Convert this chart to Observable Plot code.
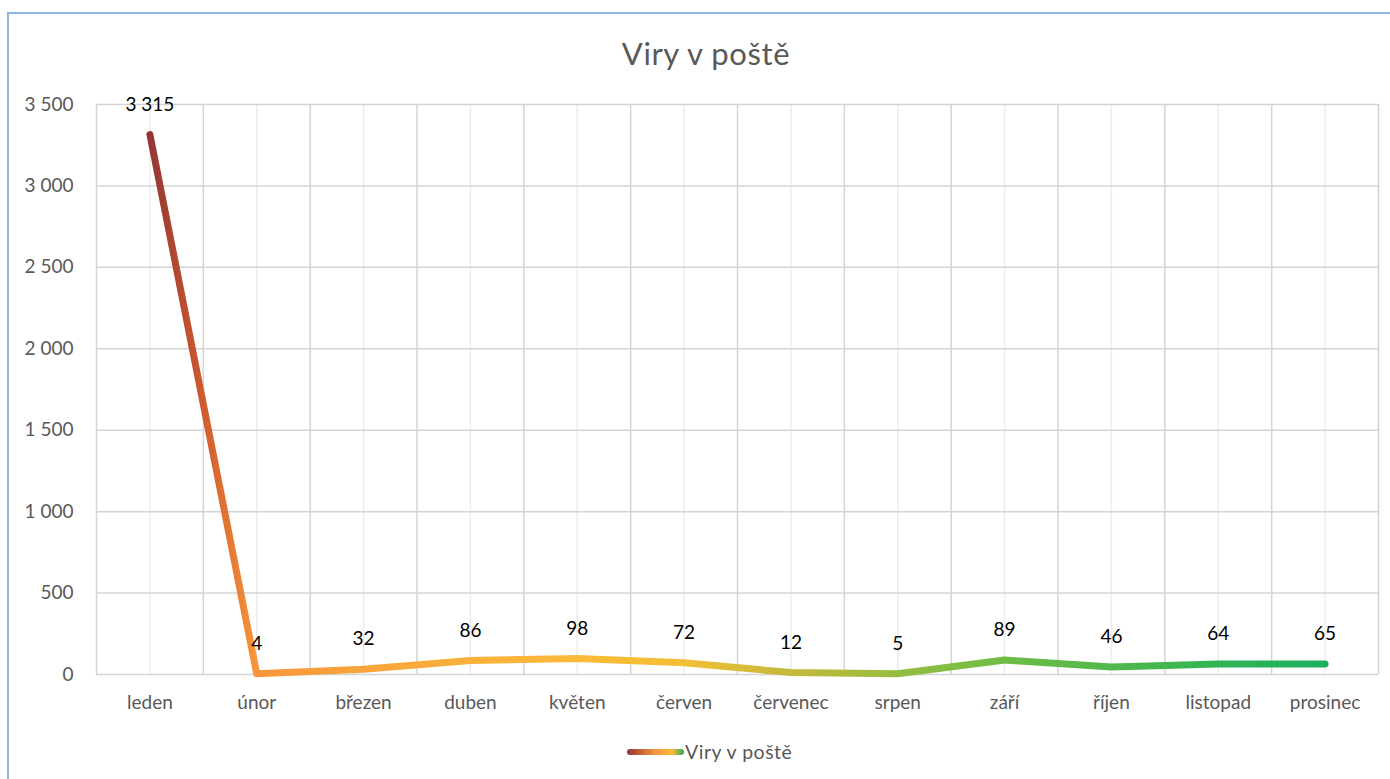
<!DOCTYPE html>
<html>
<head>
<meta charset="utf-8">
<script src="https://cdn.jsdelivr.net/npm/d3@7"></script>
<script src="https://cdn.jsdelivr.net/npm/@observablehq/plot@0.6"></script>
<style>
  html, body { margin: 0; padding: 0; background: #fff; }
  #wrap { position: relative; width: 1390px; height: 779px; overflow: hidden; font-family: Lato, "Noto Sans", sans-serif; }
  #frame { position: absolute; left: 7px; top: 12px; width: 1400px; height: 800px; border-left: 2px solid #8eb4e3; border-top: 2px solid #8eb4e3; }
  #title { position: absolute; left: 0; width: 1412px; top: 34px; text-align: center; font-size: 31px; letter-spacing: 0.6px; color: #595959; }
  #chart { position: absolute; left: 0; top: 0; }
  #legend { position: absolute; left: 627px; top: 740px; display: flex; align-items: center; font-size: 19.5px; letter-spacing: 0.5px; color: #595959; }
  #legend .sw { width: 57px; height: 6px; border-radius: 3px; background: linear-gradient(90deg, #943634, #f7963a 50%, #fbba39 80%, #1baf5c); margin-right: 1px; }
</style>
</head>
<body>
<div id="wrap">
  <div id="frame"></div>
  <div id="chart"></div>
  <div id="title">Viry v poště</div>
  <div id="legend"><div class="sw"></div><span id="legtext"></span></div>
</div>
<script>
const title = "Viry v poště";
const months = ["leden", "únor", "březen", "duben", "květen", "červen", "červenec", "srpen", "září", "říjen", "listopad", "prosinec"];
const values = [3315, 4, 32, 86, 98, 72, 12, 5, 89, 46, 64, 65];
const yTicks = [0, 500, 1000, 1500, 2000, 2500, 3000, 3500];
const gradStops = [
  [0, "#943634"], [0.045, "#cf5a2e"], [0.09, "#f7963a"], [0.18, "#f9a43b"],
  [0.27, "#fab03b"], [0.36, "#fbba39"], [0.45, "#f3bf34"], [0.55, "#c2ba3c"],
  [0.64, "#93bd40"], [0.73, "#6dbd45"], [0.82, "#52b84b"], [0.91, "#30b454"], [1, "#1baf5c"]
];

document.getElementById("legtext").textContent = title;

const data = months.map((m, i) => ({i, month: m, value: values[i]}));
const idx = months.map((m, i) => i);
const bounds = [...idx.map(i => i - 0.5), months.length - 0.5];
const fmt = d3.formatLocale({decimal: ",", thousands: " ", grouping: [3], currency: ["", " Kč"]}).format(",");

const font = "Lato, 'Noto Sans', sans-serif";
const chart = Plot.plot({
  width: 1390,
  height: 779,
  marginLeft: 96,
  marginRight: 12,
  marginTop: 104,
  marginBottom: 105,
  style: {fontFamily: font, fontSize: "19px", color: "#595959", background: "transparent"},
  x: {type: "linear", domain: [-0.5, months.length - 0.5], axis: null},
  y: {domain: [0, 3500], axis: null},
  marks: [
    Plot.ruleX(idx, {x: d => d, stroke: "#ececec", strokeWidth: 1.5}),
    Plot.ruleX(bounds, {x: d => d, stroke: "#d4d4d4", strokeWidth: 1.5}),
    Plot.ruleY(yTicks, {y: d => d, stroke: "#d4d4d4", strokeWidth: 1.5}),
    Plot.axisY(yTicks, {ticks: yTicks, tickSize: 0, tickPadding: 23, tickFormat: fmt, fontSize: 19, fill: "#595959", label: null}),
    Plot.axisX(idx, {ticks: idx, tickSize: 0, tickPadding: 21, tickFormat: i => months[i], fontSize: 19, fill: "#595959", label: null, style: {letterSpacing: "0.7px"}}),
    Plot.line(data, {x: "i", y: "value", stroke: "url(#viryGrad)", strokeWidth: 7, strokeLinecap: "round", strokeLinejoin: "round"}),
    Plot.text(data, {x: "i", y: "value", text: d => fmt(d.value), dy: -30, fill: "#000", fontSize: 19})
  ]
});

const xs = chart.scale("x");
const x0 = xs.apply(0), x1 = xs.apply(months.length - 1);
const svg = d3.select(chart);
const grad = svg.insert("defs", ":first-child").append("linearGradient")
  .attr("id", "viryGrad").attr("gradientUnits", "userSpaceOnUse")
  .attr("x1", x0).attr("x2", x1).attr("y1", 0).attr("y2", 0);
gradStops.forEach(([o, c]) => grad.append("stop").attr("offset", o).attr("stop-color", c));

document.getElementById("chart").appendChild(chart);
</script>
</body>
</html>
